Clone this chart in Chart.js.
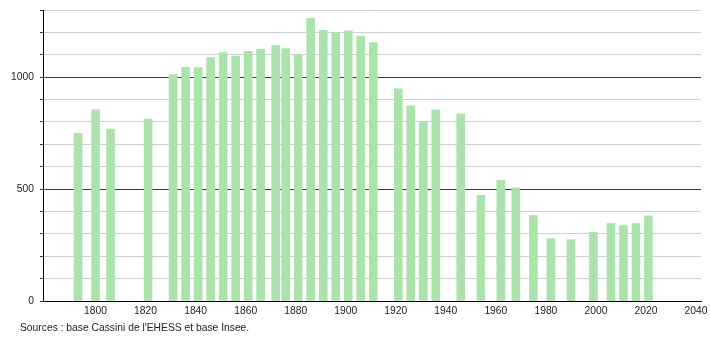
<!DOCTYPE html>
<html>
<head>
<meta charset="utf-8">
<script src="https://cdn.jsdelivr.net/npm/chart.js@4/dist/chart.umd.min.js"></script>
<style>
  html, body { margin: 0; padding: 0; background: #fff; }
  #wrap { position: relative; width: 710px; height: 340px; }
  #c { position: absolute; left: 0; top: 0; }
  #src { position: absolute; left: 20px; top: 322px; font: 10.3px "Liberation Sans", Arial, sans-serif; color: #222; white-space: nowrap; }
</style>
</head>
<body>
<div id="wrap">
  <canvas id="c" width="710" height="340"></canvas>
  <div id="src">Sources : base Cassini de l'EHESS et base Insee.</div>
</div>
<script>
const years = [1793, 1800, 1806, 1821, 1831, 1836, 1841, 1846, 1851, 1856, 1861, 1866, 1872, 1876, 1881, 1886, 1891, 1896, 1901, 1906, 1911, 1921, 1926, 1931, 1936, 1946, 1954, 1962, 1968, 1975, 1982, 1990, 1999, 2006, 2011, 2016, 2021];
const population = [749, 854, 768, 813, 1011, 1044, 1043, 1088, 1110, 1094, 1115, 1124, 1142, 1128, 1100, 1263, 1209, 1199, 1207, 1182, 1154, 948, 872, 798, 854, 836, 472, 539, 506, 382, 279, 274, 307, 346, 337, 346, 381];
const xTickLabels = [1800, 1820, 1840, 1860, 1880, 1900, 1920, 1940, 1960, 1980, 2000, 2020, 2040];
const yTickLabels = [0, 500, 1000];

const points = years.map((y, i) => ({ x: y, y: population[i] }));
const tickFont = { family: '"Liberation Sans", Arial, sans-serif', size: 10.3 };

new Chart(document.getElementById('c'), {
  type: 'bar',
  data: {
    datasets: [{
      data: points,
      backgroundColor: 'rgb(172,226,172)',
      borderWidth: 0,
      barThickness: 8
    }]
  },
  options: {
    responsive: false,
    animation: false,
    events: [],
    layout: { padding: { left: 0, right: 9, top: 10, bottom: 0 } },
    plugins: { legend: { display: false }, tooltip: { enabled: false } },
    scales: {
      x: {
        type: 'linear',
        min: 1779,
        max: 2042,
        offset: false,
        afterBuildTicks: (s) => { s.ticks = xTickLabels.map(v => ({ value: v })); },
        grid: { display: false, drawTicks: false },
        border: { display: true, color: '#000', width: 1 },
        ticks: {
          color: '#222',
          font: tickFont,
          padding: 4,
          maxRotation: 0,
          autoSkip: false,
          callback: (v) => String(v)
        },
        afterFit: (s) => { s.height = 39; s.paddingLeft = 0; s.paddingRight = 0; }
      },
      y: {
        min: 0,
        max: 1300,
        ticks: {
          stepSize: 100,
          color: '#222',
          font: tickFont,
          padding: 6,
          autoSkip: false,
          callback: (v) => yTickLabels.includes(v) ? String(v) : ''
        },
        grid: {
          color: (ctx) => (ctx.tick && ctx.tick.value % 500 === 0) ? '#3a3a3a' : '#cfcfcf',
          tickColor: '#333',
          tickLength: 3,
          lineWidth: 1
        },
        border: { display: true, color: '#000', width: 1 },
        afterFit: (s) => { s.width = 43; s.paddingTop = 0; s.paddingBottom = 0; }
      }
    }
  }
});
</script>
</body>
</html>
